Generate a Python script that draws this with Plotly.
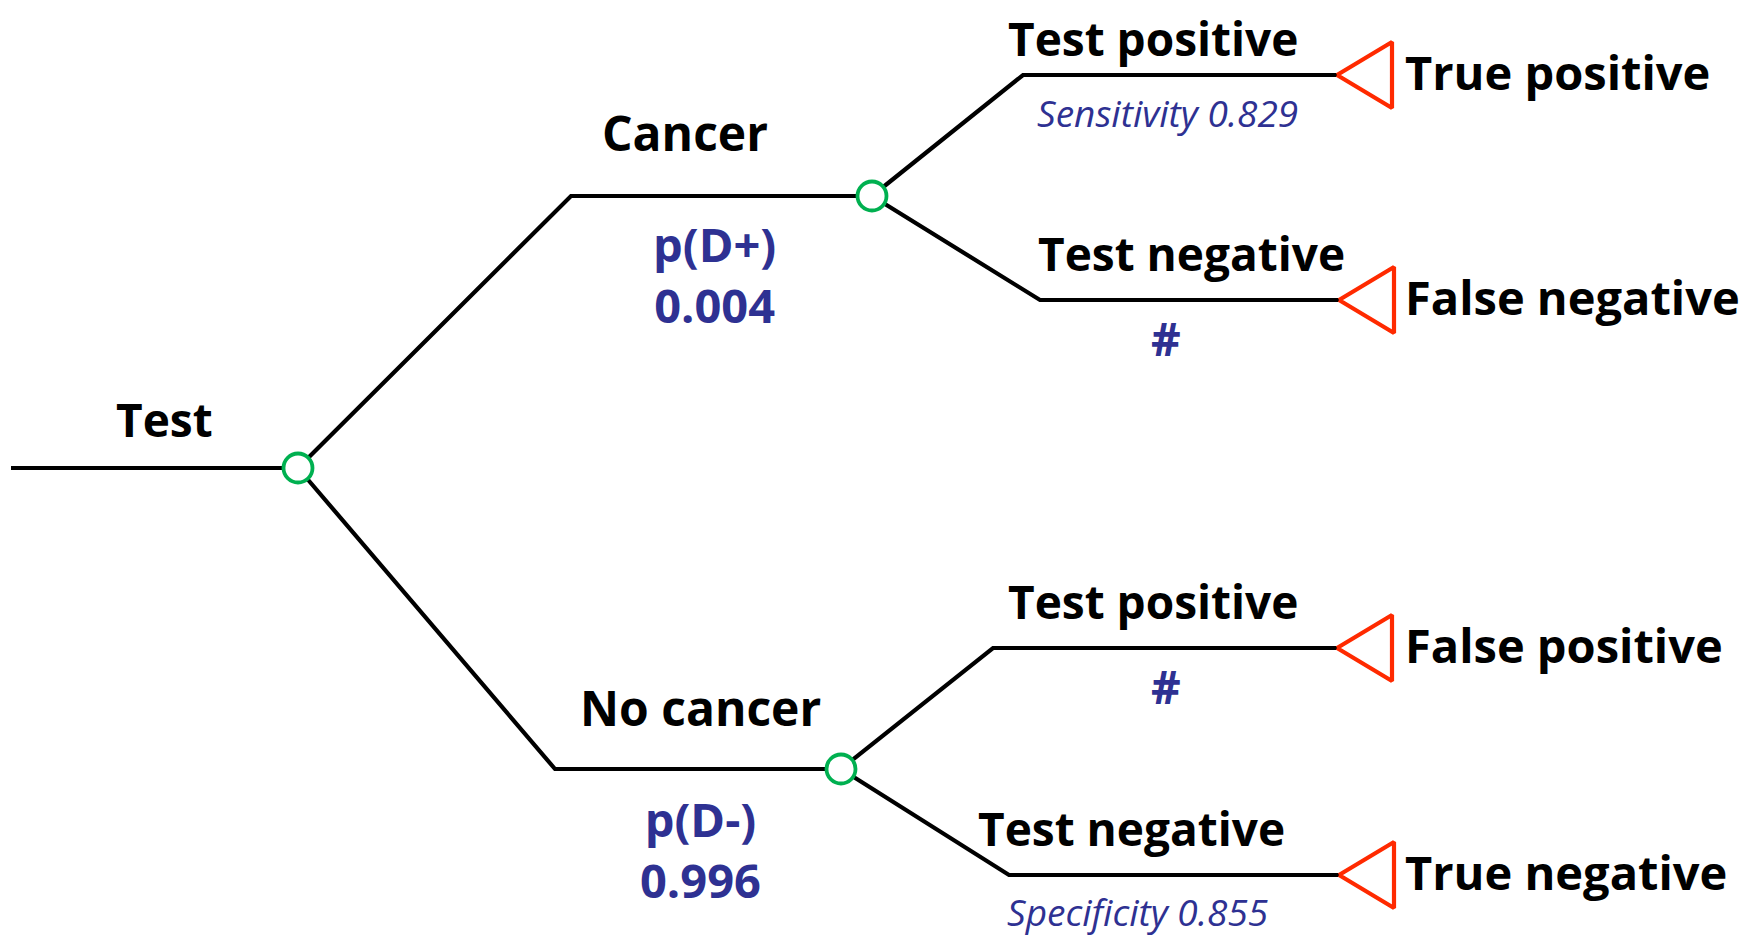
import plotly.graph_objects as go

# ---- data (text content of the tree) ----
root_label = "Test"
branch_labels = ["Cancer", "No cancer"]
branch_prob_names = ["p(D+)", "p(D-)"]
branch_prob_values = ["0.004", "0.996"]
test_labels = ["Test positive", "Test negative", "Test positive", "Test negative"]
test_probs = ["Sensitivity 0.829", "#", "#", "Specificity 0.855"]
outcomes = ["True positive", "False negative", "False positive", "True negative"]

# ---- layout of the tree (page pixel space) ----
W, H = 1752, 937
OFF = 8  # default page body margin
root_start = (11, 468)
root_node = (298, 468)
branch_elbows = [(571, 196), (555, 769)]
branch_nodes = [(872, 196), (841, 769)]
leaf_elbows = [(1023, 75), (1040, 300), (993, 648), (1009, 875)]
leaf_tips = [1337, 1339, 1337, 1339]
leaf_parent = [0, 0, 1, 1]
tri_w, tri_h = 55, 33

BLACK = "#000000"
BLUE = "#2E3192"
GREEN = "#00B050"
RED = "#FF2A00"
FONT = "Open Sans"
LW = 4.2

fig = go.Figure()

def line(xs, ys):
    fig.add_trace(go.Scatter(x=xs, y=ys, mode="lines",
                             line=dict(color=BLACK, width=LW),
                             hoverinfo="skip", showlegend=False))

# root line
line([root_start[0], root_node[0]], [root_start[1], root_node[1]])
# first-level branches
for (ex, ey), (nx, ny) in zip(branch_elbows, branch_nodes):
    line([root_node[0], ex, nx], [root_node[1], ey, ny])
# second-level branches
for i, (ex, ey) in enumerate(leaf_elbows):
    px, py = branch_nodes[leaf_parent[i]]
    line([px, ex, leaf_tips[i]], [py, ey, ey])

# terminal triangles
for i, (ex, ey) in enumerate(leaf_elbows):
    tx = leaf_tips[i]
    fig.add_trace(go.Scatter(
        x=[tx, tx + tri_w, tx + tri_w, tx],
        y=[ey, ey - tri_h, ey + tri_h, ey],
        mode="lines", fill="toself", fillcolor="white",
        line=dict(color=RED, width=LW),
        hoverinfo="skip", showlegend=False))

# chance nodes
cx = [root_node[0]] + [n[0] for n in branch_nodes]
cy = [root_node[1]] + [n[1] for n in branch_nodes]
fig.add_trace(go.Scatter(x=cx, y=cy, mode="markers",
                         marker=dict(size=29, color="white",
                                     line=dict(color=GREEN, width=3.8)),
                         hoverinfo="skip", showlegend=False))

ann = []
def txt(x, y, s, size=46, color=BLACK, bold=True, italic=False, xanchor="center"):
    t = s
    if bold:
        t = "<b>" + t + "</b>"
    if italic:
        t = "<i>" + t + "</i>"
    ann.append(dict(x=x, y=y, xref="x", yref="y", text=t, showarrow=False,
                    xanchor=xanchor, yanchor="middle",
                    font=dict(family=FONT, size=size, color=color)))

txt(164, 419, root_label)
branch_label_pos = [(685, 132), (700, 707)]
prob_block_pos = [(714, 274), (700, 849)]
for i in range(2):
    txt(*branch_label_pos[i], branch_labels[i], size=48)
    txt(*prob_block_pos[i],
        branch_prob_names[i] + "<br>" + branch_prob_values[i],
        size=47, color=BLUE)

test_label_pos = [(1153, 38), (1191, 253), (1153, 601), (1131, 828)]
test_prob_pos = [(1167, 112), (1166, 338), (1166, 686), (1137, 911)]
for i in range(4):
    txt(*test_label_pos[i], test_labels[i])
    if test_probs[i] == "#":
        txt(*test_prob_pos[i], test_probs[i], size=46, color=BLUE)
    else:
        txt(*test_prob_pos[i], test_probs[i], size=37, color=BLUE, bold=False, italic=True)
    txt(1403, leaf_elbows[i][1] - 3, outcomes[i], size=47, xanchor="left")

fig.update_layout(
    width=W, height=H,
    margin=dict(l=0, r=0, t=0, b=0),
    paper_bgcolor="white", plot_bgcolor="white",
    xaxis=dict(range=[OFF, W + OFF], visible=False, fixedrange=True),
    yaxis=dict(range=[H + OFF, OFF], visible=False, fixedrange=True),
    annotations=ann,
    showlegend=False,
)

fig.write_html("out.html", config={"displayModeBar": False})
